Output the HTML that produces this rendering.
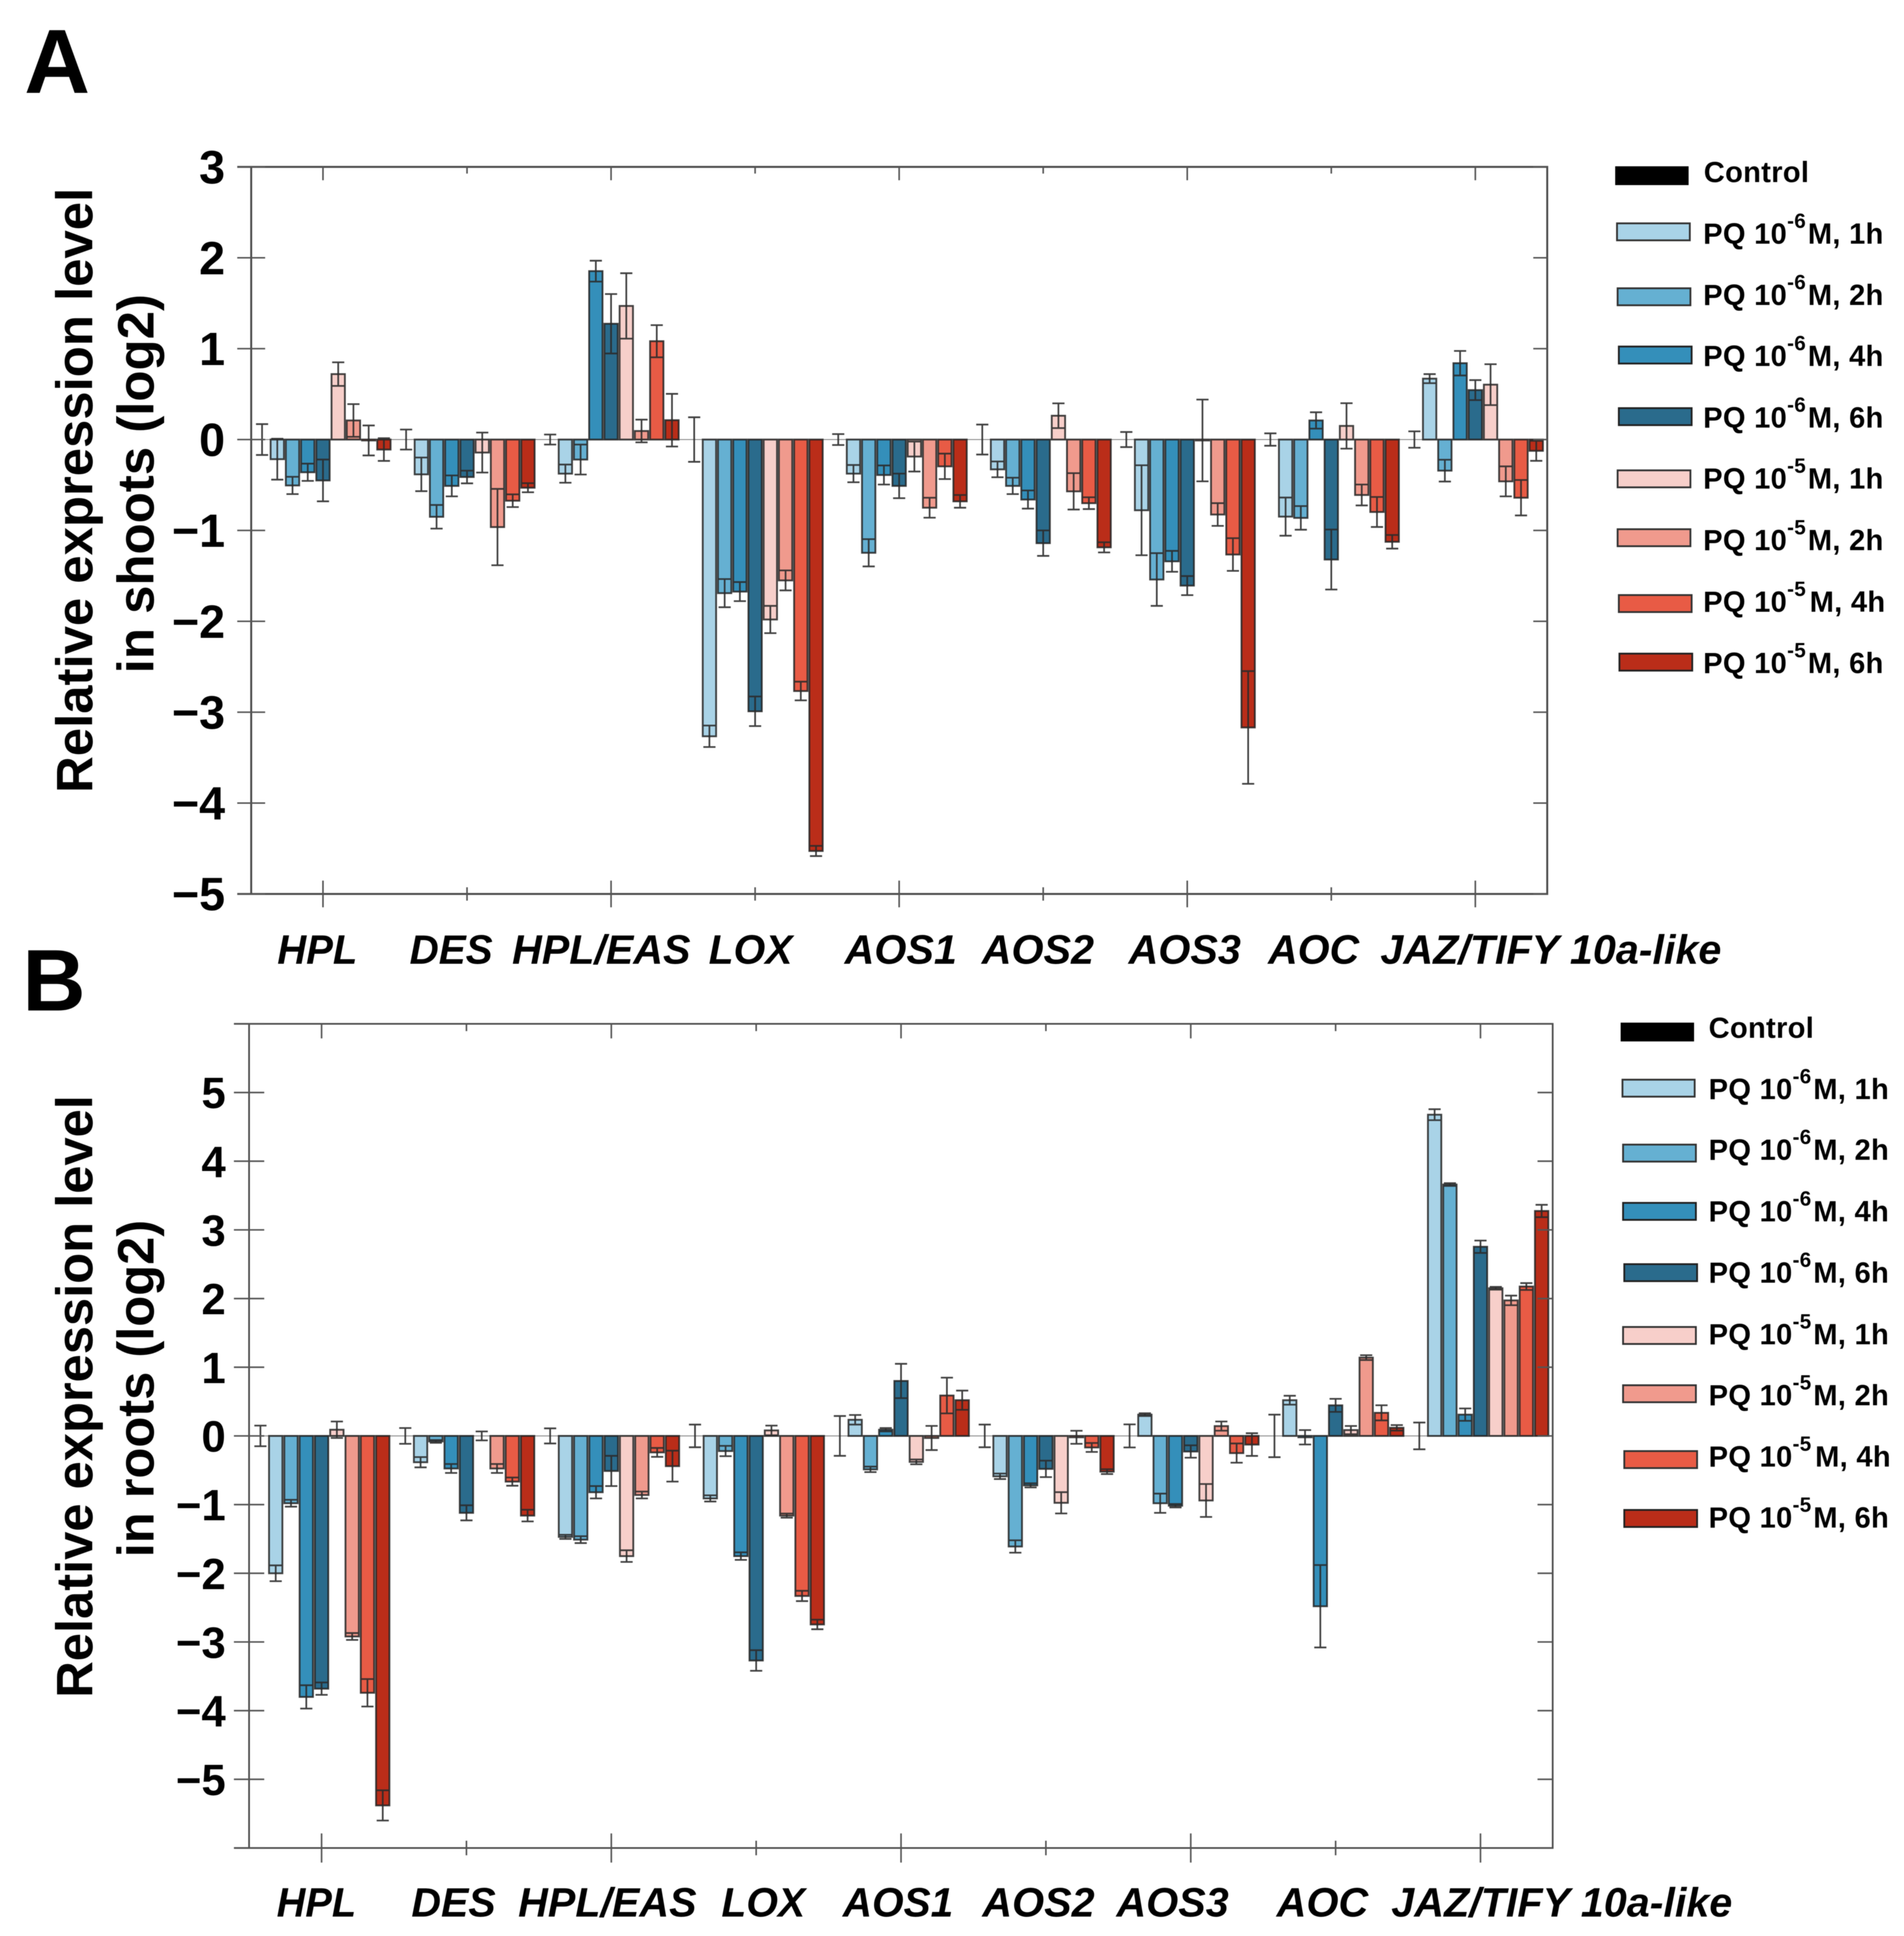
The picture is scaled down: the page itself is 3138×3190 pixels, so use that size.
<!DOCTYPE html>
<html lang="en">
<head>
<meta charset="utf-8">
<title>Relative expression level in shoots and roots</title>
<style>
html,body{margin:0;padding:0;background:#fff;}
svg{display:block;filter:blur(0.6px);}
text{font-family:"Liberation Sans",Arial,sans-serif;font-weight:bold;fill:#000;}
.gene{font-style:italic;font-size:68px;}
.lg{font-size:48px;letter-spacing:0.45px;}
.lgs{font-size:34px;}
.ytitle{font-size:84px;}
.tick{font-size:77px;}
.tickb{font-size:72px;}
</style>
</head>
<body>
<svg id="figure" xmlns="http://www.w3.org/2000/svg" width="3138" height="3190" viewBox="0 0 3138 3190">
  <rect x="0" y="0" width="3138" height="3190" fill="#fff"/>

  <text x="40" y="153" font-size="150">A</text>
  <text x="37" y="1665" font-size="144">B</text>

  <text class="ytitle" transform="translate(152,808) rotate(-90)" text-anchor="middle" textLength="997" lengthAdjust="spacingAndGlyphs">Relative expression level</text>
  <text class="ytitle" transform="translate(253,797) rotate(-90)" text-anchor="middle" textLength="625" lengthAdjust="spacingAndGlyphs">in shoots (log2)</text>
  <text class="ytitle" transform="translate(152,2301) rotate(-90)" text-anchor="middle" textLength="993" lengthAdjust="spacingAndGlyphs">Relative expression level</text>
  <text class="ytitle" transform="translate(253,2288) rotate(-90)" text-anchor="middle" textLength="556" lengthAdjust="spacingAndGlyphs">in roots (log2)</text>

  <g id="panel-a"></g>
  <g id="panel-b"></g>

  <g>
    <text class="gene" x="457" y="1588" textLength="132" lengthAdjust="spacingAndGlyphs">HPL</text>
    <text class="gene" x="675" y="1588" textLength="137" lengthAdjust="spacingAndGlyphs">DES</text>
    <text class="gene" x="844" y="1588" textLength="294" lengthAdjust="spacingAndGlyphs">HPL/EAS</text>
    <text class="gene" x="1168" y="1588" textLength="138" lengthAdjust="spacingAndGlyphs">LOX</text>
    <text class="gene" x="1392" y="1588" textLength="185" lengthAdjust="spacingAndGlyphs">AOS1</text>
    <text class="gene" x="1618" y="1588" textLength="185" lengthAdjust="spacingAndGlyphs">AOS2</text>
    <text class="gene" x="1860" y="1588" textLength="185" lengthAdjust="spacingAndGlyphs">AOS3</text>
    <text class="gene" x="2090" y="1588" textLength="150" lengthAdjust="spacingAndGlyphs">AOC</text>
    <text class="gene" x="2275" y="1588" textLength="562" lengthAdjust="spacingAndGlyphs">JAZ/TIFY 10a-like</text>
  </g>
  <g>
    <text class="gene" x="456" y="3158" textLength="131" lengthAdjust="spacingAndGlyphs">HPL</text>
    <text class="gene" x="678" y="3158" textLength="139" lengthAdjust="spacingAndGlyphs">DES</text>
    <text class="gene" x="854" y="3158" textLength="294" lengthAdjust="spacingAndGlyphs">HPL/EAS</text>
    <text class="gene" x="1189" y="3158" textLength="138" lengthAdjust="spacingAndGlyphs">LOX</text>
    <text class="gene" x="1389" y="3158" textLength="182" lengthAdjust="spacingAndGlyphs">AOS1</text>
    <text class="gene" x="1619" y="3158" textLength="185" lengthAdjust="spacingAndGlyphs">AOS2</text>
    <text class="gene" x="1840" y="3158" textLength="185" lengthAdjust="spacingAndGlyphs">AOS3</text>
    <text class="gene" x="2104" y="3158" textLength="151" lengthAdjust="spacingAndGlyphs">AOC</text>
    <text class="gene" x="2293" y="3158" textLength="562" lengthAdjust="spacingAndGlyphs">JAZ/TIFY 10a-like</text>
  </g>

  <g stroke-linejoin="miter">
    <g>
      <rect x="2662" y="274" width="121" height="31" fill="#000"/>
      <text class="lg" x="2808" y="300">Control</text>
    </g>
    <g>
      <rect x="2665" y="368" width="120" height="28" fill="#a9d3e7" stroke="#333" stroke-width="3"/>
      <text class="lg" x="2807" y="401.5">PQ 10<tspan class="lgs" dy="-26">-6</tspan><tspan dy="26" dx="3">M, 1h</tspan></text>
    </g>
    <g>
      <rect x="2666" y="475" width="120" height="28" fill="#65b0d2" stroke="#333" stroke-width="3"/>
      <text class="lg" x="2807" y="502.3">PQ 10<tspan class="lgs" dy="-26">-6</tspan><tspan dy="26" dx="3">M, 2h</tspan></text>
    </g>
    <g>
      <rect x="2668" y="571" width="120" height="28" fill="#348fba" stroke="#222" stroke-width="3"/>
      <text class="lg" x="2807" y="603">PQ 10<tspan class="lgs" dy="-26">-6</tspan><tspan dy="26" dx="3">M, 4h</tspan></text>
    </g>
    <g>
      <rect x="2668" y="672.5" width="120" height="28" fill="#2a6b8c" stroke="#222" stroke-width="3"/>
      <text class="lg" x="2807" y="704.5">PQ 10<tspan class="lgs" dy="-26">-6</tspan><tspan dy="26" dx="3">M, 6h</tspan></text>
    </g>
    <g>
      <rect x="2666" y="775" width="120" height="28" fill="#f7cfca" stroke="#333" stroke-width="3"/>
      <text class="lg" x="2807" y="805.2">PQ 10<tspan class="lgs" dy="-26">-5</tspan><tspan dy="26" dx="3">M, 1h</tspan></text>
    </g>
    <g>
      <rect x="2666" y="872" width="120" height="28" fill="#f09a8d" stroke="#333" stroke-width="3"/>
      <text class="lg" x="2807" y="906.6">PQ 10<tspan class="lgs" dy="-26">-5</tspan><tspan dy="26" dx="3">M, 2h</tspan></text>
    </g>
    <g>
      <rect x="2668" y="980.5" width="120" height="28" fill="#e85b45" stroke="#333" stroke-width="3"/>
      <text class="lg" x="2807" y="1008">PQ 10<tspan class="lgs" dy="-26">-5</tspan><tspan dy="26" dx="6">M, 4h</tspan></text>
    </g>
    <g>
      <rect x="2669" y="1077" width="120" height="28" fill="#ba2d19" stroke="#222" stroke-width="3"/>
      <text class="lg" x="2807" y="1108.8">PQ 10<tspan class="lgs" dy="-26">-5</tspan><tspan dy="26" dx="3">M, 6h</tspan></text>
    </g>
  </g>

  <g>
    <g>
      <rect x="2671" y="1685" width="121" height="31" fill="#000"/>
      <text class="lg" x="2816" y="1710">Control</text>
    </g>
    <g>
      <rect x="2674" y="1779" width="119" height="28" fill="#a9d3e7" stroke="#333" stroke-width="3"/>
      <text class="lg" x="2816" y="1811">PQ 10<tspan class="lgs" dy="-26">-6</tspan><tspan dy="26" dx="3">M, 1h</tspan></text>
    </g>
    <g>
      <rect x="2675" y="1886" width="120" height="28" fill="#65b0d2" stroke="#333" stroke-width="3"/>
      <text class="lg" x="2816" y="1911">PQ 10<tspan class="lgs" dy="-26">-6</tspan><tspan dy="26" dx="3">M, 2h</tspan></text>
    </g>
    <g>
      <rect x="2675" y="1982" width="120" height="28" fill="#348fba" stroke="#222" stroke-width="3"/>
      <text class="lg" x="2816" y="2012.5">PQ 10<tspan class="lgs" dy="-26">-6</tspan><tspan dy="26" dx="3">M, 4h</tspan></text>
    </g>
    <g>
      <rect x="2677" y="2083" width="120" height="28" fill="#2a6b8c" stroke="#222" stroke-width="3"/>
      <text class="lg" x="2816" y="2113.6">PQ 10<tspan class="lgs" dy="-26">-6</tspan><tspan dy="26" dx="3">M, 6h</tspan></text>
    </g>
    <g>
      <rect x="2675" y="2186.5" width="120" height="28" fill="#f7cfca" stroke="#333" stroke-width="3"/>
      <text class="lg" x="2816" y="2215">PQ 10<tspan class="lgs" dy="-26">-5</tspan><tspan dy="26" dx="3">M, 1h</tspan></text>
    </g>
    <g>
      <rect x="2675" y="2282.5" width="120" height="28" fill="#f09a8d" stroke="#333" stroke-width="3"/>
      <text class="lg" x="2816" y="2315.7">PQ 10<tspan class="lgs" dy="-26">-5</tspan><tspan dy="26" dx="3">M, 2h</tspan></text>
    </g>
    <g>
      <rect x="2677" y="2391" width="120" height="28" fill="#e85b45" stroke="#333" stroke-width="3"/>
      <text class="lg" x="2816" y="2416.7">PQ 10<tspan class="lgs" dy="-26">-5</tspan><tspan dy="26" dx="6">M, 4h</tspan></text>
    </g>
    <g>
      <rect x="2677" y="2488" width="120" height="28" fill="#ba2d19" stroke="#222" stroke-width="3"/>
      <text class="lg" x="2816" y="2517">PQ 10<tspan class="lgs" dy="-26">-5</tspan><tspan dy="26" dx="3">M, 6h</tspan></text>
    </g>
  </g>
</svg>

<script>
// Categories and series
const genes = ["HPL", "DES", "HPL/EAS", "LOX", "AOS1", "AOS2", "AOS3", "AOC", "JAZ/TIFY 10a-like"];
const seriesNames = ["Control", "1e-6 1h", "1e-6 2h", "1e-6 4h", "1e-6 6h", "1e-5 1h", "1e-5 2h", "1e-5 4h", "1e-5 6h"];
const seriesColors = ["#000000", "#a9d3e7", "#65b0d2", "#348fba", "#2a6b8c", "#f7cfca", "#f09a8d", "#e85b45", "#ba2d19"];

// Panel A: shoots. One row per gene, one column per series.
const shootMeans = [
  [0, -0.216, -0.505, -0.36, -0.45, 0.72, 0.21, -0.01, -0.11],
  [0, -0.383, -0.85, -0.51, -0.412, -0.143, -0.963, -0.673, -0.53],
  [0, -0.375, -0.22, 1.853, 1.274, 1.47, 0.094, 1.082, 0.213],
  [0, -3.265, -1.69, -1.673, -2.99, -1.98, -1.55, -2.767, -4.527],
  [0, -0.375, -1.246, -0.39, -0.51, -0.187, -0.75, -0.295, -0.68],
  [0, -0.328, -0.51, -0.66, -1.14, 0.262, -0.57, -0.7, -1.186],
  [0, -0.778, -1.54, -1.34, -1.607, -0.01, -0.825, -1.265, -3.168],
  [0, -0.848, -0.862, 0.21, -1.32, 0.15, -0.61, -0.797, -1.125],
  [0, 0.67, -0.342, 0.84, 0.544, 0.604, -0.46, -0.64, -0.124]
];
const shootErrors = [
  [0.17, 0.225, 0.095, 0.095, 0.23, 0.13, 0.18, 0.165, 0.125],
  [0.11, 0.185, 0.13, 0.115, 0.07, 0.22, 0.42, 0.07, 0.05],
  [0.055, 0.1, 0.165, 0.115, 0.327, 0.36, 0.125, 0.177, 0.29],
  [0.245, 0.118, 0.155, 0.105, 0.163, 0.15, 0.11, 0.103, 0.056],
  [0.06, 0.095, 0.15, 0.105, 0.135, 0.165, 0.11, 0.14, 0.07],
  [0.165, 0.087, 0.09, 0.1, 0.14, 0.136, 0.2, 0.065, 0.056],
  [0.083, 0.495, 0.29, 0.115, 0.105, 0.45, 0.125, 0.18, 0.62],
  [0.068, 0.21, 0.13, 0.09, 0.33, 0.25, 0.115, 0.165, 0.075],
  [0.09, 0.05, 0.12, 0.135, 0.11, 0.225, 0.165, 0.195, 0.11]
];

// Panel B: roots. One row per gene, one column per series.
const rootMeans = [
  [0, -2.0, -0.98, -3.8, -3.68, 0.09, -2.92, -3.74, -5.38],
  [0, -0.383, -0.08, -0.474, -1.12, 0, -0.474, -0.665, -1.16],
  [0, -1.47, -1.51, -0.82, -0.51, -1.75, -0.86, -0.24, -0.44],
  [0, -0.91, -0.22, -1.75, -3.27, 0.08, -1.16, -2.33, -2.745],
  [0, 0.235, -0.487, 0.09, 0.8, -0.378, -0.03, 0.588, 0.52],
  [0, -0.588, -1.61, -0.72, -0.48, -0.974, -0.02, -0.168, -0.52],
  [0, 0.31, -0.98, -1.016, -0.227, -0.94, 0.143, -0.25, -0.126],
  [0, 0.52, -0.02, -2.48, 0.445, 0.085, 1.14, 0.336, 0.118],
  [0, 4.677, 3.66, 0.31, 2.754, 2.15, 1.973, 2.175, 3.275]
];
const rootErrors = [
  [0.15, 0.115, 0.05, 0.17, 0.09, 0.12, 0.05, 0.2, 0.22],
  [0.115, 0.075, 0.02, 0.065, 0.11, 0.065, 0.065, 0.06, 0.085],
  [0.11, 0.03, 0.05, 0.09, 0.22, 0.085, 0.05, 0.065, 0.225],
  [0.165, 0.045, 0.075, 0.055, 0.15, 0.07, 0.03, 0.075, 0.07],
  [0.29, 0.07, 0.04, 0.025, 0.25, 0.035, 0.176, 0.26, 0.14],
  [0.165, 0.04, 0.09, 0.03, 0.12, 0.155, 0.095, 0.065, 0.035],
  [0.168, 0.02, 0.14, 0.025, 0.09, 0.24, 0.067, 0.14, 0.165],
  [0.31, 0.065, 0.105, 0.6, 0.095, 0.06, 0.035, 0.11, 0.04],
  [0.195, 0.08, 0.02, 0.09, 0.09, 0.02, 0.07, 0.05, 0.09]
];

// Tick values
const shootYTicks = [3, 2, 1, 0, -1, -2, -3, -4, -5];
const shootYLabels = [3, 2, 1, 0, -1, -2, -3, -4, -5];
const rootYTicks = [6, 5, 4, 3, 2, 1, 0, -1, -2, -3, -4, -5, -6];
const rootYLabels = [5, 4, 3, 2, 1, 0, -1, -2, -3, -4, -5];

const SVGNS = "http://www.w3.org/2000/svg";

function make(parent, tag, attrs) {
  const el = document.createElementNS(SVGNS, tag);
  for (const k in attrs) { el.setAttribute(k, attrs[k]); }
  parent.appendChild(el);
  return el;
}

function drawPanel(root, cfg, means, errors, yTicks, yLabels) {
  const yScale = function (v) {
    return cfg.bottom - (v - cfg.yMin) / (cfg.yMax - cfg.yMin) * (cfg.bottom - cfg.top);
  };
  const groupX = function (g) { return cfg.firstTick + g * cfg.groupStep; };
  const barX = function (g, s) { return groupX(g) + (s - 4) * cfg.barStep; };
  const y0 = yScale(0);

  const zero = make(root, "line", { x1: cfg.left - cfg.yTickLen, x2: cfg.right, y1: y0, y2: y0, stroke: "#888", "stroke-width": 1.6 });
  
  

  // bars
  genes.forEach(function (gene, g) {
    seriesNames.forEach(function (name, s) {
      const v = means[g][s];
      const yv = yScale(v);
      const bar = make(root, "rect", {
        x: barX(g, s) - cfg.barWidth / 2,
        y: Math.min(yv, y0),
        width: cfg.barWidth,
        height: Math.abs(yv - y0),
        fill: seriesColors[s],
        stroke: s === 0 ? "none" : "#222",
        "stroke-width": 3,
        "stroke-opacity": 0.85
      });
      
      
    });
  });

  // error bars, above the bars
  genes.forEach(function (gene, g) {
    seriesNames.forEach(function (name, s) {
      const x = barX(g, s);
      const hi = yScale(means[g][s] + errors[g][s]);
      const lo = yScale(means[g][s] - errors[g][s]);
      const eg = make(root, "path", {
        d: "M" + x + " " + hi + "V" + lo +
           "M" + (x - cfg.capHalf) + " " + hi + "H" + (x + cfg.capHalf) +
           "M" + (x - cfg.capHalf) + " " + lo + "H" + (x + cfg.capHalf),
        fill: "none",
        stroke: "#2b2b2b",
        "stroke-width": 2.8,
        "stroke-opacity": 0.9
      });
      
      
    });
  });

  // frame
  const frame = make(root, "path", {
    d: "M" + (cfg.left - cfg.yTickLen) + " " + cfg.top + "H" + cfg.right + "V" + cfg.bottom + "H" + (cfg.left - cfg.yTickLen) +
       "M" + cfg.left + " " + cfg.top + "V" + cfg.bottom,
    fill: "none",
    stroke: "#4a4a4a",
    "stroke-width": cfg.frameWidth
  });
  
  

  // y ticks
  yTicks.forEach(function (v) {
    const y = yScale(v);
    const t = make(root, "path", {
      d: "M" + (cfg.left - cfg.yTickLen) + " " + y + "H" + (cfg.left + cfg.yTickLen) +
         "M" + (cfg.right - cfg.yTickLen) + " " + y + "H" + cfg.right,
      fill: "none", stroke: "#555", "stroke-width": 2.6
    });
    
    
  });

  // y tick labels
  yLabels.forEach(function (v) {
    const lab = make(root, "text", {
      x: cfg.labelRight,
      y: yScale(v) + cfg.labelShift,
      "text-anchor": "end",
      class: cfg.labelClass
    });
    lab.textContent = v < 0 ? "\u2212" + Math.abs(v) : String(v);
    
    
  });

  // x ticks, alternating major and minor
  genes.forEach(function (gene, g) {
    const x = groupX(g);
    const major = g % 2 === 0;
    const top = make(root, "line", {
      x1: x, x2: x, y1: cfg.top, y2: cfg.top + (major ? cfg.xMajor : cfg.xMinor),
      stroke: "#555", "stroke-width": 2.6
    });
    
    
    const half = major ? cfg.xMajor : cfg.xMinor;
    const bot = make(root, "line", {
      x1: x, x2: x, y1: cfg.bottom - half, y2: cfg.bottom + half,
      stroke: "#555", "stroke-width": 2.6
    });
    
    
  });
}

drawPanel(document.getElementById("panel-a"), {
  left: 414, right: 2550, top: 275, bottom: 1473, yMin: -5, yMax: 3,
  firstTick: 532.3, groupStep: 237.4, barStep: 25.1, barWidth: 22, capHalf: 10,
  yTickLen: 23, xMajor: 22, xMinor: 11, labelRight: 371, labelShift: 27, labelClass: "tick", frameWidth: 3.2
}, shootMeans, shootErrors, shootYTicks, shootYLabels);

drawPanel(document.getElementById("panel-b"), {
  left: 410.5, right: 2559, top: 1687, bottom: 3045, yMin: -6, yMax: 6,
  firstTick: 530, groupStep: 238.75, barStep: 25.2, barWidth: 22, capHalf: 10,
  yTickLen: 25, xMajor: 24, xMinor: 12, labelRight: 372, labelShift: 26, labelClass: "tickb", frameWidth: 2.8
}, rootMeans, rootErrors, rootYTicks, rootYLabels);
</script>
</body>
</html>
